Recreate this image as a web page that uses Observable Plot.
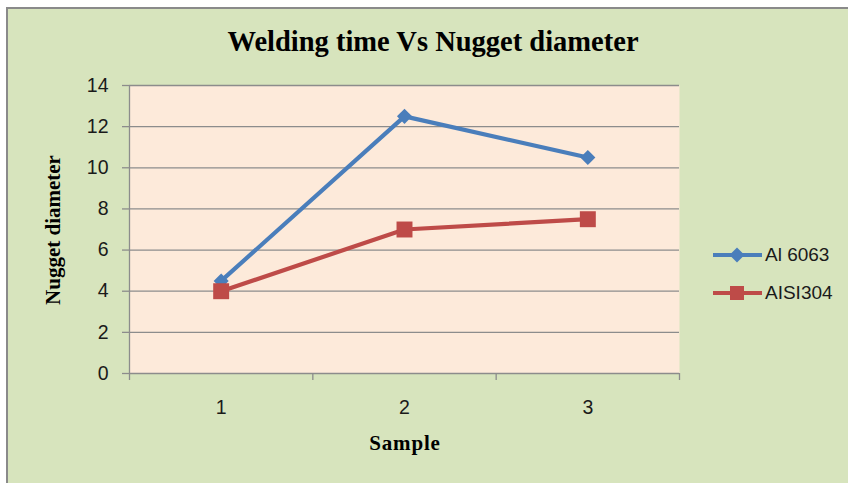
<!DOCTYPE html>
<html>
<head>
<meta charset="utf-8">
<script src="https://cdn.jsdelivr.net/npm/d3@7"></script>
<script src="https://cdn.jsdelivr.net/npm/@observablehq/plot@0.6"></script>
<style>
  html, body { margin: 0; padding: 0; background: #ffffff; }
  #page { position: relative; width: 848px; height: 483px; overflow: hidden; }
  #bg { position: absolute; left: 6px; top: 7px; width: 860px; height: 490px;
        background: #D7E4BD; border-left: 2px solid #8a8a8a; border-top: 2px solid #8a8a8a; }
  #title { position: absolute; left: 0; width: 866px; top: 28px; text-align: center;
           font: bold 28.5px "Liberation Serif", "Times New Roman", serif; line-height: 1; color: #000; white-space: nowrap; }
  #plotwrap { position: absolute; left: 0; top: 70px; }
  #ylabel { position: absolute; left: 53px; top: 230px; transform: translate(-50%, -50%) rotate(-90deg);
            font: bold 21px "Liberation Serif", "Times New Roman", serif; white-space: nowrap; color: #000; }
  #xlabel { position: absolute; left: 405px; top: 443px; transform: translate(-50%, -50%);
            font: bold 21px "Liberation Serif", "Times New Roman", serif; white-space: nowrap; color: #000; letter-spacing: 0.8px; }
  .leg { position: absolute; left: 711px; height: 20px; display: flex; align-items: center;
         font: 19px "Liberation Sans", Arial, sans-serif; color: #1a1a1a; white-space: nowrap; }
  .leg svg { display: block; margin-right: 2px; }
</style>
</head>
<body>
<div id="page">
  <div id="bg"></div>
  <div id="title"></div>
  <div id="plotwrap"></div>
  <div id="ylabel"></div>
  <div id="xlabel"></div>
  <div id="legend"></div>
</div>
<script>
// ---- data ----
const titleText = "Welding time Vs Nugget diameter";
const xLabelText = "Sample";
const yLabelText = "Nugget diameter";
const samples = [1, 2, 3];
const seriesNames = ["Al 6063", "AISI304"];
const al6063 = [4.5, 12.5, 10.5];
const aisi304 = [4.0, 7.0, 7.5];
const yTicks = [0, 2, 4, 6, 8, 10, 12, 14];

const colors = ["#4A7EBB", "#BE4B48"];
const seriesValues = [al6063, aisi304];

const rows = [];
seriesNames.forEach((name, i) => {
  samples.forEach((s, j) => rows.push({ series: name, sample: s, value: seriesValues[i][j] }));
});
const xDomain = [d3.min(samples) - 0.5, d3.max(samples) + 0.5];
const bounds = d3.range(samples.length + 1).map(k => xDomain[0] + k);

document.getElementById("title").textContent = titleText;
document.getElementById("ylabel").textContent = yLabelText;
document.getElementById("xlabel").textContent = xLabelText;

const gridColor = "#8C8C8C";
const chart = Plot.plot({
  width: 848,
  height: 413,
  marginTop: 15,
  marginBottom: 110,
  marginLeft: 129,
  marginRight: 169,
  style: { background: "transparent", fontFamily: "'Liberation Sans', Arial, sans-serif", fontSize: "19.5px", color: "#1a1a1a", overflow: "visible" },
  x: { domain: xDomain },
  y: { domain: [0, 14] },
  color: { domain: seriesNames, range: colors },
  marks: [
    Plot.frame({ fill: "#FDEADA", stroke: null }),
    Plot.ruleY(yTicks.filter(t => t > 0), { stroke: gridColor, strokeWidth: 1.3 }),
    Plot.ruleX([xDomain[0]], { stroke: gridColor, strokeWidth: 1.3 }),
    Plot.ruleY([0], { stroke: gridColor, strokeWidth: 1.3 }),
    Plot.axisY({ ticks: yTicks, tickSize: 7, tickPadding: 14, stroke: gridColor, strokeWidth: 1.3, label: null, fontSize: 19.5 }),
    Plot.axisX({ ticks: bounds, tickSize: 7, tickFormat: () => "", stroke: gridColor, strokeWidth: 1.3, label: null }),
    Plot.axisX({ ticks: samples, tickSize: 0, tickPadding: 27, tickFormat: d3.format("d"), label: null, fontSize: 19.5 }),
    Plot.line(rows, { x: "sample", y: "value", stroke: "series", strokeWidth: 4.2, strokeLinejoin: "round" }),
    Plot.dot(rows.filter(d => d.series === seriesNames[0]), { x: "sample", y: "value", symbol: "diamond2", r: 6.8, fill: colors[0], stroke: null }),
    Plot.dot(rows.filter(d => d.series === seriesNames[1]), { x: "sample", y: "value", symbol: "square", r: 9, fill: colors[1], stroke: null })
  ]
});
document.getElementById("plotwrap").appendChild(chart);

// legend
const legendTops = [245, 283];
const legend = document.getElementById("legend");
seriesNames.forEach((name, i) => {
  const item = document.createElement("div");
  item.className = "leg";
  item.style.top = legendTops[i] + "px";
  const svg = d3.create("svg").attr("width", 52).attr("height", 20);
  svg.append("line").attr("x1", 2).attr("x2", 51).attr("y1", 10).attr("y2", 10)
    .attr("stroke", colors[i]).attr("stroke-width", 4);
  if (i === 0) {
    svg.append("path").attr("d", "M26,2.5L33.5,10L26,17.5L18.5,10Z").attr("fill", colors[i]);
  } else {
    svg.append("rect").attr("x", 19).attr("y", 3).attr("width", 14).attr("height", 14).attr("fill", colors[i]);
  }
  item.appendChild(svg.node());
  const span = document.createElement("span");
  span.textContent = name;
  item.appendChild(span);
  legend.appendChild(item);
});
</script>
</body>
</html>
